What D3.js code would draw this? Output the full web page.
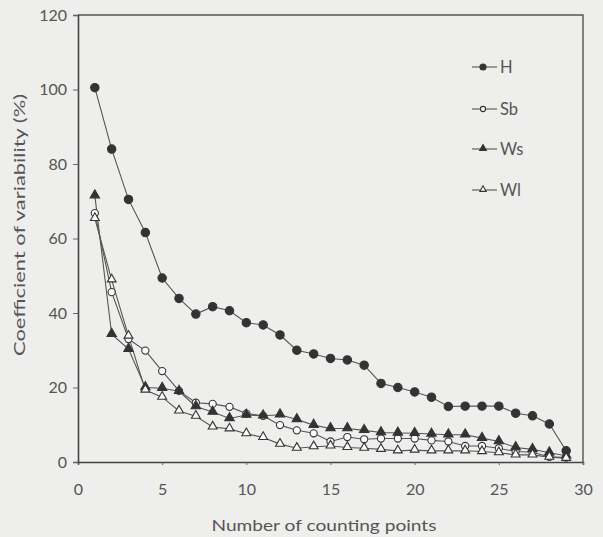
<!DOCTYPE html>
<html>
<head>
<meta charset="utf-8">
<script src="https://cdn.jsdelivr.net/npm/d3@7"></script>
<style>
  body { margin: 0; background: #eeeeec; }
  svg { display: block; }
  text { font-family: Lato, "DejaVu Sans", sans-serif; fill: #555; }
</style>
</head>
<body>
<svg id="chart"></svg>
<script>
let width = 603
let height = 537

let points = [1,2,3,4,5,6,7,8,9,10,11,12,13,14,15,16,17,18,19,20,21,22,23,24,25,26,27,28,29]
let hValues = [100.5,84,70.5,61.6,49.4,43.9,39.7,41.7,40.6,37.4,36.8,34.1,30,29,27.8,27.4,26,21.1,20,18.8,17.4,14.9,15,15,15,13.1,12.4,10.2,3]
let sbValues = [66.8,45.6,33,29.9,24.4,19.1,15.9,15.6,14.8,13,12.4,9.9,8.5,7.7,5.5,6.7,6.1,6.3,6.3,6.3,5.8,5.5,4.3,4.3,3.7,2.8,2.6,1.4,1.2]
let wsValues = [71.5,34.3,30.3,20,19.8,19,14.9,13.4,11.7,12.6,12.4,12.7,11.4,9.9,9,9,8.5,7.9,7.8,7.7,7.5,7.3,7.3,6.4,5.5,3.9,3.4,2.5,1.7]
let wlValues = [65.4,48.9,33.8,19.3,17.4,13.7,12.3,9.4,8.9,7.6,6.6,4.8,3.7,4.1,4.3,3.9,3.7,3.4,3.0,3.2,3.0,3.0,3.0,2.8,2.5,1.9,1.9,1.3,1.0]
let seriesNames = ["H", "Sb", "Ws", "Wl"]
let xTicks = [0,5,10,15,20,25,30]
let yTicks = [0,20,40,60,80,100,120]

let series = [
  {name: seriesNames[0], values: hValues, shape: "circle", filled: true},
  {name: seriesNames[1], values: sbValues, shape: "circle", filled: false},
  {name: seriesNames[2], values: wsValues, shape: "triangle", filled: true},
  {name: seriesNames[3], values: wlValues, shape: "triangle", filled: false}
]

let svg = d3.select("#chart").attr("width", width).attr("height", height)

let xScale = d3.scaleLinear().domain([0, 30]).range([78, 583])
let yScale = d3.scaleLinear().domain([0, 120]).range([462, 15])

// frame (top + right)
svg.append("path")
   .attr("d", "M" + xScale(0) + "," + yScale(120) + "H" + xScale(30) + "V" + yScale(0))
   .attr("fill", "none")
   .attr("stroke", "#555")
   .attr("stroke-width", 1.4)

let xAxis = svg.append("g")
   .attr("transform", "translate(0," + yScale(0) + ")")
   .call(d3.axisBottom(xScale).tickValues(xTicks).tickSize(3).tickPadding(19).tickFormat(d3.format("d")))
let yAxis = svg.append("g")
   .attr("transform", "translate(" + xScale(0) + ",0)")
   .call(d3.axisLeft(yScale).tickValues(yTicks).tickSize(5).tickPadding(6))

;[xAxis, yAxis].forEach(ax => {
  ax.select(".domain").attr("stroke", "#444").attr("stroke-width", 1.6)
  ax.selectAll(".tick line").attr("stroke", "#666")
  ax.selectAll(".tick text").style("font-size", "16px").attr("fill", "#555")
})

svg.append("text")
   .attr("x", 324).attr("y", 531)
   .attr("text-anchor", "middle")
   .style("font-size", "15px")
   .attr("textLength", 225).attr("lengthAdjust", "spacingAndGlyphs")
   .text("Number of counting points")

svg.append("text")
   .attr("transform", "translate(25,225) rotate(-90)")
   .attr("text-anchor", "middle")
   .style("font-size", "15px")
   .attr("textLength", 262).attr("lengthAdjust", "spacingAndGlyphs")
   .text("Coefficient of variability (%)")

let line = d3.line()
   .x((d, i) => xScale(points[i]))
   .y(d => yScale(d))

let drawMarker = (g, s, x, y, k) => {
  if (s.shape === "circle") {
    g.append("circle")
     .attr("cx", x).attr("cy", y)
     .attr("r", (s.filled ? 4.2 : 3.6) * k)
     .attr("fill", s.filled ? "#333" : "#fafafa")
     .attr("stroke", "#333").attr("stroke-width", 1.1)
  } else {
    g.append("path")
     .attr("d", d3.symbol().type(d3.symbolTriangle).size((s.filled ? 38 : 34) * k * k)())
     .attr("transform", "translate(" + x + "," + (y - 0.5) + ")")
     .attr("fill", s.filled ? "#333" : "#fafafa")
     .attr("stroke", "#333").attr("stroke-width", 1.1)
  }
}

series.forEach(s => {
  svg.append("path")
     .datum(s.values)
     .attr("d", line)
     .attr("fill", "none")
     .attr("stroke", "#555")
     .attr("stroke-width", 1.1)
})

series.forEach(s => {
  let g = svg.append("g")
  s.values.forEach((v, i) => drawMarker(g, s, xScale(points[i]), yScale(v), 1))
})

// legend
let legendY = [67, 109, 149, 190]
series.forEach((s, i) => {
  let g = svg.append("g")
  g.append("line")
   .attr("x1", 472).attr("x2", 497)
   .attr("y1", legendY[i]).attr("y2", legendY[i])
   .attr("stroke", "#555").attr("stroke-width", 1.1)
  drawMarker(g, s, 483, legendY[i], 0.72)
  g.append("text")
   .attr("x", 500).attr("y", legendY[i] + 6)
   .style("font-size", "16.5px")
   .text(s.name)
})
</script>
</body>
</html>
